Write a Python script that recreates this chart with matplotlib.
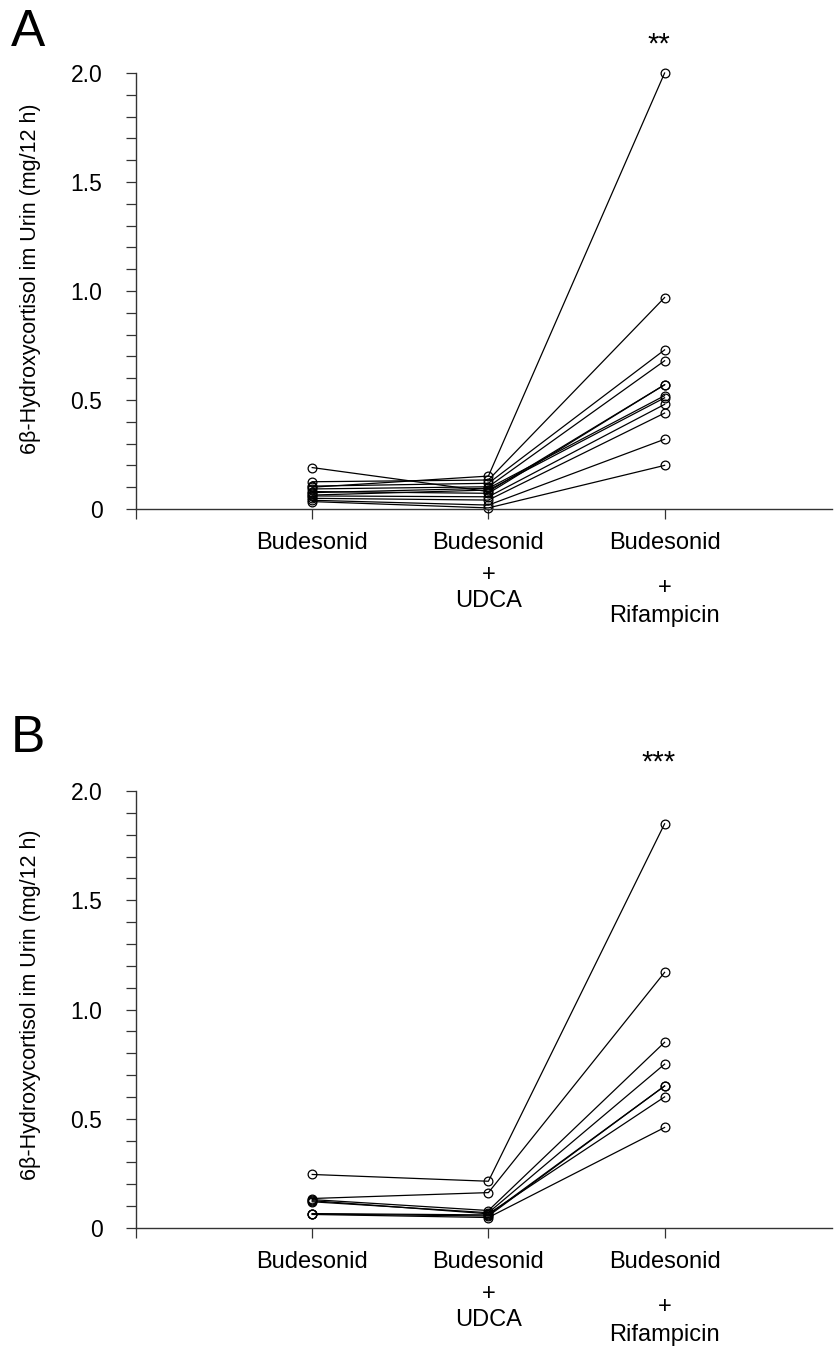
import matplotlib
matplotlib.use("Agg")
import matplotlib.pyplot as plt
from matplotlib.ticker import MultipleLocator

plt.rcParams['font.family'] = ['Liberation Sans', 'DejaVu Sans']

# group positions on the x axis
groups = [1, 2, 3]

# panel A: one row per subject (Budesonid, +UDCA, +Rifampicin), mg/12 h
a_bud = [0.100, 0.190, 0.125, 0.105, 0.092, 0.080, 0.075, 0.064, 0.060, 0.049, 0.040, 0.034]
a_udca = [0.151, 0.080, 0.133, 0.118, 0.102, 0.072, 0.095, 0.087, 0.056, 0.041, 0.018, 0.005]
a_rif = [2.00, 0.57, 0.97, 0.73, 0.68, 0.57, 0.52, 0.51, 0.48, 0.44, 0.32, 0.20]

# panel B
b_bud = [0.245, 0.135, 0.130, 0.120, 0.066, 0.064, 0.125, 0.062]
b_udca = [0.214, 0.162, 0.080, 0.070, 0.060, 0.055, 0.065, 0.048]
b_rif = [1.85, 1.17, 0.85, 0.75, 0.65, 0.65, 0.60, 0.46]

ylabel = "6\u03b2-Hydroxycortisol im Urin (mg/12 h)"
yticks = [0, 0.5, 1.0, 1.5, 2.0]
yticklabels = ["0", "0.5", "1.0", "1.5", "2.0"]


def draw_panel(ax, bud, udca, rif, stars):
    for b, u, r in zip(bud, udca, rif):
        ax.plot(groups, [b, u, r], color='black', lw=0.9, marker='o',
                ms=6.3, mfc='none', mec='black', mew=0.9, clip_on=False)
    ax.set_xlim(0, 3.95)
    ax.set_ylim(0, 2.0)
    ax.spines['top'].set_visible(False)
    ax.spines['right'].set_visible(False)
    for s in ['left', 'bottom']:
        ax.spines[s].set_color('#333333')
        ax.spines[s].set_linewidth(1.0)
    ax.set_yticks(yticks)
    ax.set_yticklabels(yticklabels)
    ax.yaxis.set_minor_locator(MultipleLocator(0.1))
    ax.tick_params(axis='y', which='both', direction='out', length=7.2,
                   width=0.9, labelsize=16.5, pad=17, colors='#333333',
                   labelcolor='black')
    ax.set_xticks([0] + groups)
    ax.set_xticklabels([''] * 4)
    ax.tick_params(axis='x', direction='out', length=7.2, width=0.9,
                   colors='#333333')

    def lab(x, txt, dy):
        ax.annotate(txt, xy=(x, 0), xycoords=('data', 'axes fraction'),
                    xytext=(0, -dy), textcoords='offset pixels',
                    ha='center', va='center', fontsize=17)

    lab(1, "Budesonid", 34)
    lab(2, "Budesonid", 34)
    lab(2, "+", 66)
    lab(2, "UDCA", 92)
    lab(3, "Budesonid", 34)
    lab(3, "+", 79)
    lab(3, "Rifampicin", 107)

    # significance stars above the Rifampicin group
    ax.annotate(stars, xy=(3, 2.0), xycoords='data', xytext=(-6, 28),
                textcoords='offset pixels', ha='center', va='center',
                fontsize=21, annotation_clip=False)


fig = plt.figure(figsize=(8.37, 13.47), dpi=100)
W, H = 837, 1347

axA = fig.add_axes([136 / W, 1 - 509 / H, (832 - 136) / W, 436 / H])
draw_panel(axA, a_bud, a_udca, a_rif, "**")

axB = fig.add_axes([136 / W, 1 - 1228 / H, (832 - 136) / W, 437 / H])
draw_panel(axB, b_bud, b_udca, b_rif, "***")

fig.text(31 / W, 1 - 279 / H, ylabel, rotation=90, ha='center', va='center', fontsize=15.5)
fig.text(31 / W, 1 - 1005 / H, ylabel, rotation=90, ha='center', va='center', fontsize=15.5)

fig.text(28 / W, 1 - 33 / H, "A", ha='center', va='center', fontsize=37)
fig.text(28 / W, 1 - 739 / H, "B", ha='center', va='center', fontsize=37)

fig.savefig("out.png", dpi=100)
